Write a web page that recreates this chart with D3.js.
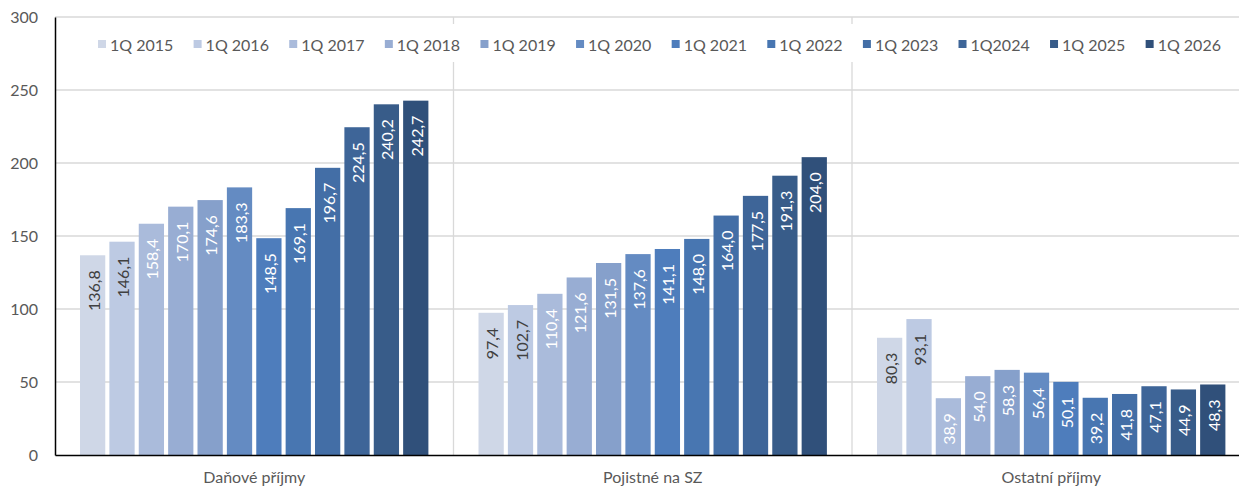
<!DOCTYPE html>
<html><head><meta charset="utf-8">
<script src="https://cdn.jsdelivr.net/npm/d3@7"></script>
<style>html,body{margin:0;padding:0;background:#fff;overflow:hidden}text{font-family:Lato,"Open Sans",sans-serif}</style>
</head><body><svg id="c" width="1239" height="486"></svg>
<script>
const categories = ["Daňové příjmy", "Pojistné na SZ", "Ostatní příjmy"];
const seriesNames = ["1Q 2015","1Q 2016","1Q 2017","1Q 2018","1Q 2019","1Q 2020","1Q 2021","1Q 2022","1Q 2023","1Q2024","1Q 2025","1Q 2026"];
const danove   = [136.8,146.1,158.4,170.1,174.6,183.3,148.5,169.1,196.7,224.5,240.2,242.7];
const pojistne = [97.4,102.7,110.4,121.6,131.5,137.6,141.1,148.0,164.0,177.5,191.3,204.0];
const ostatni  = [80.3,93.1,38.9,54.0,58.3,56.4,50.1,39.2,41.8,47.1,44.9,48.3];
const yTicks = [0,50,100,150,200,250,300];
const colors = ["#cfd7e7","#bdcae3","#aabbdb","#98add3","#86a0cb","#648bc2","#4e7dbc","#4876b1","#436ea6","#3e6598","#385c89","#30507a"];

const values = [danove, pojistne, ostatni];
const svg = d3.select("#c");
const mLeft = 55, mTop = 17, mBottom = 455, catW = 398.5;
const x0 = d3.scaleBand().domain(categories).range([mLeft, mLeft + catW*3]).padding(0);
const x1 = d3.scaleBand().domain(seriesNames).range([25, 373.4]).paddingInner(0.14).paddingOuter(0);
const y = d3.scaleLinear().domain([0,300]).range([mBottom, mTop]);

svg.append("g").selectAll("line").data(yTicks.filter(d=>d>0)).join("line")
  .attr("x1", mLeft).attr("x2", 1239).attr("y1", d=>y(d)).attr("y2", d=>y(d))
  .attr("stroke", "#d9d9d9").attr("stroke-width", 1.3);
svg.append("g").selectAll("line").data(categories.slice(1)).join("line")
  .attr("x1", d=>x0(d)).attr("x2", d=>x0(d)).attr("y1", mTop).attr("y2", mBottom)
  .attr("stroke", "#d9d9d9").attr("stroke-width", 1.3);

const fmt = v => v.toFixed(1).replace(".", ",");
const groups = svg.append("g").selectAll("g").data(categories).join("g")
  .attr("transform", d => `translate(${x0(d)},0)`);
groups.each(function(cat, ci) {
  const g = d3.select(this);
  const data = seriesNames.map((s, si) => ({s, si, v: values[ci][si]}));
  g.selectAll("rect").data(data).join("rect")
    .attr("x", d => x1(d.s)).attr("width", x1.bandwidth())
    .attr("y", d => y(d.v)).attr("height", d => y(0) - y(d.v))
    .attr("fill", d => colors[d.si]);
  g.selectAll("text").data(data).join("text")
    .attr("transform", d => `translate(${x1(d.s) + x1.bandwidth()/2 + 0.5},${y(d.v) + 15}) rotate(-90)`)
    .attr("text-anchor", "end").attr("dominant-baseline", "central")
    .attr("font-size", 16).attr("fill", d => d.si < 2 ? "#404040" : "#ffffff")
    .text(d => fmt(d.v));
});

const yAxis = d3.axisLeft(y).tickValues(yTicks).tickSize(0).tickPadding(17);
const ya = svg.append("g").attr("transform", `translate(${mLeft},0)`).call(yAxis);
ya.select(".domain").attr("stroke", "#000").attr("stroke-width", 1.5);
ya.selectAll("text").attr("font-size", 16).attr("fill", "#595959").attr("font-family", "Lato");

const xAxis = d3.axisBottom(x0).tickSize(0).tickPadding(17);
const xa = svg.append("g").attr("transform", `translate(0,${mBottom})`).call(xAxis);
xa.select(".domain").attr("stroke", "#000").attr("stroke-width", 1.5);
xa.selectAll("text").attr("font-size", 16).attr("fill", "#595959").attr("font-family", "Lato");

const leg = svg.append("g");
leg.append("rect").attr("x", 88).attr("y", 24).attr("width", 1145).attr("height", 38).attr("fill", "#fff");
let lx = 98;
seriesNames.forEach((s, i) => {
  leg.append("rect").attr("x", lx).attr("y", 40).attr("width", 8).attr("height", 8).attr("fill", colors[i]);
  const t = leg.append("text").attr("x", lx + 12).attr("y", 44).attr("dominant-baseline", "central")
    .attr("font-size", 16).attr("fill", "#595959").text(s);
  lx += 12 + t.node().getComputedTextLength() + 20.3;
});
</script></body></html>
